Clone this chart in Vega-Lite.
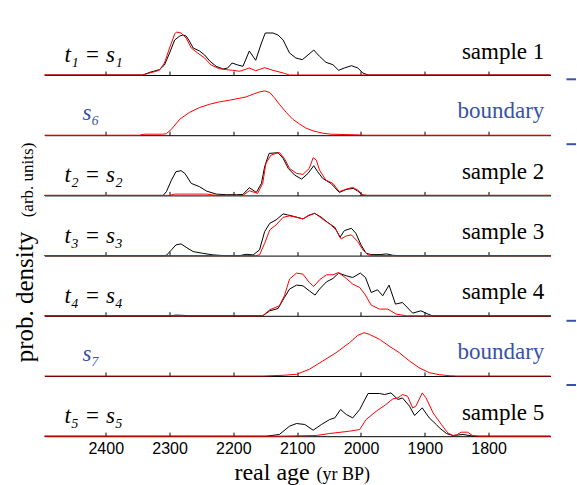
{
  "$schema": "https://vega.github.io/schema/vega-lite/v6.json",
  "padding": {"left": 12.5, "top": 15, "right": 0, "bottom": 0},
  "spacing": 0.2,
  "bounds": "flush",
  "config": {
    "view": {"stroke": null},
    "axis": {"domainColor": "#000000", "tickColor": "#000000", "domainWidth": 1, "tickWidth": 1, "grid": false}
  },
  "datasets": {
    "dens": [
      {"panel":1,"series":"black","age":2496,"density":0},{"panel":1,"series":"black","age":2342,"density":0},{"panel":1,"series":"black","age":2331,"density":0.054},{"panel":1,"series":"black","age":2316,"density":0.106},{"panel":1,"series":"black","age":2308,"density":0.2},{"panel":1,"series":"black","age":2300,"density":0.44},{"panel":1,"series":"black","age":2292,"density":0.7},{"panel":1,"series":"black","age":2284,"density":0.78},{"panel":1,"series":"black","age":2279,"density":0.8},{"panel":1,"series":"black","age":2274,"density":0.78},{"panel":1,"series":"black","age":2269,"density":0.68},{"panel":1,"series":"black","age":2263,"density":0.54},{"panel":1,"series":"black","age":2253,"density":0.48},{"panel":1,"series":"black","age":2245,"density":0.4},{"panel":1,"series":"black","age":2237,"density":0.28},{"panel":1,"series":"black","age":2227,"density":0.174},{"panel":1,"series":"black","age":2216,"density":0.12},{"panel":1,"series":"black","age":2209,"density":0.14},{"panel":1,"series":"black","age":2202,"density":0.24},{"panel":1,"series":"black","age":2193,"density":0.2},{"panel":1,"series":"black","age":2185,"density":0.174},{"panel":1,"series":"black","age":2175,"density":0.48},{"panel":1,"series":"black","age":2165,"density":0.294},{"panel":1,"series":"black","age":2156,"density":0.64},{"panel":1,"series":"black","age":2150,"density":0.84},{"panel":1,"series":"black","age":2138,"density":0.84},{"panel":1,"series":"black","age":2130,"density":0.8},{"panel":1,"series":"black","age":2122,"density":0.7},{"panel":1,"series":"black","age":2112,"density":0.44},{"panel":1,"series":"black","age":2102,"density":0.34},{"panel":1,"series":"black","age":2092,"density":0.306},{"panel":1,"series":"black","age":2083,"density":0.4},{"panel":1,"series":"black","age":2074,"density":0.5},{"panel":1,"series":"black","age":2065,"density":0.374},{"panel":1,"series":"black","age":2055,"density":0.254},{"panel":1,"series":"black","age":2044,"density":0.206},{"panel":1,"series":"black","age":2035,"density":0.094},{"panel":1,"series":"black","age":2026,"density":0.14},{"panel":1,"series":"black","age":2015,"density":0.186},{"panel":1,"series":"black","age":2005,"density":0.14},{"panel":1,"series":"black","age":1997,"density":0.04},{"panel":1,"series":"black","age":1989,"density":0},{"panel":1,"series":"black","age":1703,"density":0},
      {"panel":1,"series":"red","age":2496,"density":0},{"panel":1,"series":"red","age":2342,"density":0},{"panel":1,"series":"red","age":2331,"density":0.04},{"panel":1,"series":"red","age":2316,"density":0.094},{"panel":1,"series":"red","age":2308,"density":0.24},{"panel":1,"series":"red","age":2300,"density":0.54},{"panel":1,"series":"red","age":2292,"density":0.82},{"panel":1,"series":"red","age":2289,"density":0.86},{"panel":1,"series":"red","age":2282,"density":0.84},{"panel":1,"series":"red","age":2274,"density":0.74},{"panel":1,"series":"red","age":2266,"density":0.54},{"panel":1,"series":"red","age":2256,"density":0.44},{"panel":1,"series":"red","age":2245,"density":0.34},{"panel":1,"series":"red","age":2235,"density":0.2},{"panel":1,"series":"red","age":2222,"density":0.126},{"panel":1,"series":"red","age":2211,"density":0.106},{"panel":1,"series":"red","age":2201,"density":0.094},{"panel":1,"series":"red","age":2190,"density":0.074},{"panel":1,"series":"red","age":2175,"density":0.14},{"panel":1,"series":"red","age":2165,"density":0.086},{"panel":1,"series":"red","age":2151,"density":0.146},{"panel":1,"series":"red","age":2138,"density":0.094},{"panel":1,"series":"red","age":2122,"density":0.04},{"panel":1,"series":"red","age":2112,"density":0},{"panel":1,"series":"red","age":1703,"density":0},
      {"panel":2,"series":"red","age":2496,"density":0},{"panel":2,"series":"red","age":2347,"density":0},{"panel":2,"series":"red","age":2340,"density":0.02},{"panel":2,"series":"red","age":2311,"density":0.02},{"panel":2,"series":"red","age":2305,"density":0.03},{"panel":2,"series":"red","age":2297,"density":0.12},{"panel":2,"series":"red","age":2284,"density":0.32},{"panel":2,"series":"red","age":2269,"density":0.454},{"panel":2,"series":"red","age":2253,"density":0.554},{"panel":2,"series":"red","age":2237,"density":0.62},{"panel":2,"series":"red","age":2222,"density":0.666},{"panel":2,"series":"red","age":2206,"density":0.7},{"panel":2,"series":"red","age":2190,"density":0.74},{"panel":2,"series":"red","age":2180,"density":0.766},{"panel":2,"series":"red","age":2169,"density":0.82},{"panel":2,"series":"red","age":2159,"density":0.866},{"panel":2,"series":"red","age":2151,"density":0.886},{"panel":2,"series":"red","age":2143,"density":0.854},{"panel":2,"series":"red","age":2136,"density":0.754},{"panel":2,"series":"red","age":2128,"density":0.62},{"panel":2,"series":"red","age":2117,"density":0.454},{"panel":2,"series":"red","age":2107,"density":0.32},{"panel":2,"series":"red","age":2096,"density":0.22},{"panel":2,"series":"red","age":2086,"density":0.14},{"panel":2,"series":"red","age":2075,"density":0.086},{"panel":2,"series":"red","age":2060,"density":0.04},{"panel":2,"series":"red","age":2047,"density":0.02},{"panel":2,"series":"red","age":2002,"density":0.006},{"panel":2,"series":"red","age":1995,"density":0},{"panel":2,"series":"red","age":1703,"density":0},
      {"panel":3,"series":"black","age":2496,"density":0},{"panel":3,"series":"black","age":2310,"density":0},{"panel":3,"series":"black","age":2305,"density":0.074},{"panel":3,"series":"black","age":2297,"density":0.306},{"panel":3,"series":"black","age":2290,"density":0.474},{"panel":3,"series":"black","age":2282,"density":0.494},{"panel":3,"series":"black","age":2276,"density":0.44},{"panel":3,"series":"black","age":2266,"density":0.24},{"panel":3,"series":"black","age":2253,"density":0.174},{"panel":3,"series":"black","age":2242,"density":0.086},{"panel":3,"series":"black","age":2227,"density":0.026},{"panel":3,"series":"black","age":2211,"density":0.014},{"panel":3,"series":"black","age":2195,"density":0.014},{"panel":3,"series":"black","age":2185,"density":0.02},{"panel":3,"series":"black","age":2175,"density":0.154},{"panel":3,"series":"black","age":2164,"density":0.06},{"panel":3,"series":"black","age":2156,"density":0.24},{"panel":3,"series":"black","age":2151,"density":0.574},{"panel":3,"series":"black","age":2144,"density":0.84},{"panel":3,"series":"black","age":2130,"density":0.854},{"panel":3,"series":"black","age":2122,"density":0.74},{"panel":3,"series":"black","age":2114,"density":0.54},{"panel":3,"series":"black","age":2104,"density":0.406},{"panel":3,"series":"black","age":2093,"density":0.326},{"panel":3,"series":"black","age":2083,"density":0.44},{"panel":3,"series":"black","age":2074,"density":0.594},{"panel":3,"series":"black","age":2068,"density":0.474},{"panel":3,"series":"black","age":2060,"density":0.34},{"panel":3,"series":"black","age":2047,"density":0.24},{"panel":3,"series":"black","age":2034,"density":0.06},{"panel":3,"series":"black","age":2023,"density":0.12},{"panel":3,"series":"black","age":2012,"density":0.14},{"panel":3,"series":"black","age":2005,"density":0.086},{"panel":3,"series":"black","age":1997,"density":0.006},{"panel":3,"series":"black","age":1990,"density":0},{"panel":3,"series":"black","age":1703,"density":0},
      {"panel":3,"series":"red","age":2496,"density":0},{"panel":3,"series":"red","age":2300,"density":0},{"panel":3,"series":"red","age":2292,"density":0.026},{"panel":3,"series":"red","age":2284,"density":0.026},{"panel":3,"series":"red","age":2242,"density":0.026},{"panel":3,"series":"red","age":2227,"density":0},{"panel":3,"series":"red","age":2185,"density":0},{"panel":3,"series":"red","age":2175,"density":0.094},{"panel":3,"series":"red","age":2162,"density":0.04},{"panel":3,"series":"red","age":2154,"density":0.24},{"panel":3,"series":"red","age":2149,"density":0.64},{"panel":3,"series":"red","age":2141,"density":0.806},{"panel":3,"series":"red","age":2128,"density":0.86},{"panel":3,"series":"red","age":2120,"density":0.74},{"panel":3,"series":"red","age":2112,"density":0.54},{"panel":3,"series":"red","age":2101,"density":0.44},{"panel":3,"series":"red","age":2091,"density":0.42},{"panel":3,"series":"red","age":2081,"density":0.54},{"panel":3,"series":"red","age":2075,"density":0.754},{"panel":3,"series":"red","age":2070,"density":0.706},{"panel":3,"series":"red","age":2065,"density":0.506},{"panel":3,"series":"red","age":2055,"density":0.306},{"panel":3,"series":"red","age":2044,"density":0.24},{"panel":3,"series":"red","age":2034,"density":0.074},{"panel":3,"series":"red","age":2023,"density":0.126},{"panel":3,"series":"red","age":2013,"density":0.16},{"panel":3,"series":"red","age":2005,"density":0.106},{"panel":3,"series":"red","age":1997,"density":0.006},{"panel":3,"series":"red","age":1990,"density":0},{"panel":3,"series":"red","age":1703,"density":0},
      {"panel":4,"series":"black","age":2496,"density":0},{"panel":4,"series":"black","age":2310,"density":0},{"panel":4,"series":"black","age":2305,"density":0.006},{"panel":4,"series":"black","age":2297,"density":0.114},{"panel":4,"series":"black","age":2290,"density":0.214},{"panel":4,"series":"black","age":2282,"density":0.234},{"panel":4,"series":"black","age":2274,"density":0.166},{"panel":4,"series":"black","age":2263,"density":0.08},{"panel":4,"series":"black","age":2248,"density":0.046},{"panel":4,"series":"black","age":2232,"density":0.014},{"panel":4,"series":"black","age":2215,"density":0},{"panel":4,"series":"black","age":2190,"density":0},{"panel":4,"series":"black","age":2180,"density":0.026},{"panel":4,"series":"black","age":2169,"density":0.014},{"panel":4,"series":"black","age":2159,"density":0.114},{"panel":4,"series":"black","age":2151,"density":0.48},{"panel":4,"series":"black","age":2143,"density":0.646},{"panel":4,"series":"black","age":2133,"density":0.714},{"panel":4,"series":"black","age":2122,"density":0.834},{"panel":4,"series":"black","age":2115,"density":0.814},{"panel":4,"series":"black","age":2104,"density":0.78},{"panel":4,"series":"black","age":2091,"density":0.734},{"panel":4,"series":"black","age":2083,"density":0.794},{"panel":4,"series":"black","age":2073,"density":0.846},{"panel":4,"series":"black","age":2062,"density":0.766},{"panel":4,"series":"black","age":2052,"density":0.66},{"panel":4,"series":"black","age":2041,"density":0.566},{"panel":4,"series":"black","age":2033,"density":0.366},{"panel":4,"series":"black","age":2026,"density":0.5},{"panel":4,"series":"black","age":2015,"density":0.546},{"panel":4,"series":"black","age":2008,"density":0.446},{"panel":4,"series":"black","age":2000,"density":0.214},{"panel":4,"series":"black","age":1992,"density":0.046},{"panel":4,"series":"black","age":1984,"density":0.02},{"panel":4,"series":"black","age":1970,"density":0.02},{"panel":4,"series":"black","age":1960,"density":0.034},{"panel":4,"series":"black","age":1950,"density":0.006},{"panel":4,"series":"black","age":1940,"density":0},{"panel":4,"series":"black","age":1703,"density":0},
      {"panel":4,"series":"red","age":2496,"density":0},{"panel":4,"series":"red","age":2165,"density":0},{"panel":4,"series":"red","age":2159,"density":0.014},{"panel":4,"series":"red","age":2151,"density":0.246},{"panel":4,"series":"red","age":2143,"density":0.514},{"panel":4,"series":"red","age":2133,"density":0.614},{"panel":4,"series":"red","age":2122,"density":0.766},{"panel":4,"series":"red","age":2112,"density":0.794},{"panel":4,"series":"red","age":2101,"density":0.766},{"panel":4,"series":"red","age":2091,"density":0.734},{"panel":4,"series":"red","age":2081,"density":0.814},{"panel":4,"series":"red","age":2072,"density":0.846},{"panel":4,"series":"red","age":2062,"density":0.746},{"panel":4,"series":"red","age":2049,"density":0.634},{"panel":4,"series":"red","age":2039,"density":0.514},{"panel":4,"series":"red","age":2031,"density":0.334},{"panel":4,"series":"red","age":2023,"density":0.394},{"panel":4,"series":"red","age":2015,"density":0.414},{"panel":4,"series":"red","age":2005,"density":0.28},{"panel":4,"series":"red","age":1997,"density":0.114},{"panel":4,"series":"red","age":1989,"density":0.014},{"panel":4,"series":"red","age":1980,"density":0},{"panel":4,"series":"red","age":1703,"density":0},
      {"panel":5,"series":"black","age":2496,"density":0},{"panel":5,"series":"black","age":2300,"density":0},{"panel":5,"series":"black","age":2290,"density":0.014},{"panel":5,"series":"black","age":2280,"density":0.01},{"panel":5,"series":"black","age":2270,"density":0},{"panel":5,"series":"black","age":2154,"density":0},{"panel":5,"series":"black","age":2143,"density":0.1},{"panel":5,"series":"black","age":2130,"density":0.146},{"panel":5,"series":"black","age":2120,"density":0.366},{"panel":5,"series":"black","age":2112,"density":0.534},{"panel":5,"series":"black","age":2101,"density":0.614},{"panel":5,"series":"black","age":2091,"density":0.6},{"panel":5,"series":"black","age":2081,"density":0.5},{"panel":5,"series":"black","age":2072,"density":0.414},{"panel":5,"series":"black","age":2065,"density":0.534},{"panel":5,"series":"black","age":2054,"density":0.68},{"panel":5,"series":"black","age":2044,"density":0.746},{"panel":5,"series":"black","age":2035,"density":0.854},{"panel":5,"series":"black","age":2023,"density":0.8},{"panel":5,"series":"black","age":2013,"density":0.766},{"panel":5,"series":"black","age":2001,"density":0.854},{"panel":5,"series":"black","age":1993,"density":0.766},{"panel":5,"series":"black","age":1984,"density":0.466},{"panel":5,"series":"black","age":1974,"density":0.52},{"panel":5,"series":"black","age":1966,"density":0.4},{"panel":5,"series":"black","age":1956,"density":0.614},{"panel":5,"series":"black","age":1946,"density":0.234},{"panel":5,"series":"black","age":1935,"density":0.266},{"panel":5,"series":"black","age":1919,"density":0.054},{"panel":5,"series":"black","age":1906,"density":0.1},{"panel":5,"series":"black","age":1895,"density":0.034},{"panel":5,"series":"black","age":1888,"density":0},{"panel":5,"series":"black","age":1703,"density":0},
      {"panel":5,"series":"red","age":2496,"density":0},{"panel":5,"series":"red","age":2154,"density":0},{"panel":5,"series":"red","age":2143,"density":0.12},{"panel":5,"series":"red","age":2128,"density":0.2},{"panel":5,"series":"red","age":2120,"density":0.4},{"panel":5,"series":"red","age":2112,"density":0.734},{"panel":5,"series":"red","age":2101,"density":0.854},{"panel":5,"series":"red","age":2091,"density":0.834},{"panel":5,"series":"red","age":2081,"density":0.666},{"panel":5,"series":"red","age":2074,"density":0.586},{"panel":5,"series":"red","age":2065,"density":0.72},{"panel":5,"series":"red","age":2054,"density":0.82},{"panel":5,"series":"red","age":2044,"density":0.82},{"panel":5,"series":"red","age":2035,"density":0.866},{"panel":5,"series":"red","age":2023,"density":0.746},{"panel":5,"series":"red","age":2013,"density":0.634},{"panel":5,"series":"red","age":2002,"density":0.566},{"panel":5,"series":"red","age":1994,"density":0.434},{"panel":5,"series":"red","age":1984,"density":0.214},{"panel":5,"series":"red","age":1971,"density":0.134},{"panel":5,"series":"red","age":1958,"density":0.134},{"panel":5,"series":"red","age":1945,"density":0.034},{"panel":5,"series":"red","age":1929,"density":0},{"panel":5,"series":"red","age":1703,"density":0},
      {"panel":6,"series":"red","age":2496,"density":0},{"panel":6,"series":"red","age":2154,"density":0},{"panel":6,"series":"red","age":2122,"density":0.014},{"panel":6,"series":"red","age":2101,"density":0.034},{"panel":6,"series":"red","age":2081,"density":0.134},{"panel":6,"series":"red","age":2060,"density":0.3},{"panel":6,"series":"red","age":2039,"density":0.466},{"panel":6,"series":"red","age":2018,"density":0.666},{"panel":6,"series":"red","age":2005,"density":0.814},{"panel":6,"series":"red","age":1995,"density":0.866},{"panel":6,"series":"red","age":1987,"density":0.834},{"panel":6,"series":"red","age":1971,"density":0.734},{"panel":6,"series":"red","age":1956,"density":0.6},{"panel":6,"series":"red","age":1940,"density":0.466},{"panel":6,"series":"red","age":1924,"density":0.3},{"panel":6,"series":"red","age":1909,"density":0.166},{"panel":6,"series":"red","age":1893,"density":0.066},{"panel":6,"series":"red","age":1877,"density":0.026},{"panel":6,"series":"red","age":1861,"density":0.006},{"panel":6,"series":"red","age":1850,"density":0},{"panel":6,"series":"red","age":1703,"density":0},
      {"panel":7,"series":"black","age":2496,"density":0},{"panel":7,"series":"black","age":2149,"density":0},{"panel":7,"series":"black","age":2128,"density":0.034},{"panel":7,"series":"black","age":2112,"density":0.2},{"panel":7,"series":"black","age":2101,"density":0.254},{"panel":7,"series":"black","age":2088,"density":0.234},{"panel":7,"series":"black","age":2075,"density":0.12},{"panel":7,"series":"black","age":2062,"density":0.234},{"panel":7,"series":"black","age":2049,"density":0.334},{"panel":7,"series":"black","age":2041,"density":0.366},{"panel":7,"series":"black","age":2032,"density":0.534},{"panel":7,"series":"black","age":2023,"density":0.434},{"panel":7,"series":"black","age":2013,"density":0.366},{"panel":7,"series":"black","age":2002,"density":0.534},{"panel":7,"series":"black","age":1989,"density":0.854},{"panel":7,"series":"black","age":1971,"density":0.854},{"panel":7,"series":"black","age":1963,"density":0.834},{"panel":7,"series":"black","age":1953,"density":0.866},{"panel":7,"series":"black","age":1942,"density":0.734},{"panel":7,"series":"black","age":1935,"density":0.766},{"panel":7,"series":"black","age":1924,"density":0.6},{"panel":7,"series":"black","age":1916,"density":0.414},{"panel":7,"series":"black","age":1904,"density":0.566},{"panel":7,"series":"black","age":1893,"density":0.366},{"panel":7,"series":"black","age":1882,"density":0.234},{"panel":7,"series":"black","age":1877,"density":0.166},{"panel":7,"series":"black","age":1866,"density":0.054},{"panel":7,"series":"black","age":1856,"density":0.014},{"panel":7,"series":"black","age":1840,"density":0.034},{"panel":7,"series":"black","age":1824,"density":0},{"panel":7,"series":"black","age":1703,"density":0},
      {"panel":7,"series":"red","age":2496,"density":0},{"panel":7,"series":"red","age":2133,"density":0},{"panel":7,"series":"red","age":2070,"density":0.014},{"panel":7,"series":"red","age":2049,"density":0.054},{"panel":7,"series":"red","age":2018,"density":0.1},{"panel":7,"series":"red","age":2002,"density":0.134},{"panel":7,"series":"red","age":1992,"density":0.334},{"panel":7,"series":"red","age":1976,"density":0.5},{"panel":7,"series":"red","age":1961,"density":0.634},{"panel":7,"series":"red","age":1950,"density":0.746},{"panel":7,"series":"red","age":1942,"density":0.766},{"panel":7,"series":"red","age":1935,"density":0.834},{"panel":7,"series":"red","age":1927,"density":0.8},{"panel":7,"series":"red","age":1919,"density":0.566},{"panel":7,"series":"red","age":1914,"density":0.6},{"panel":7,"series":"red","age":1904,"density":0.866},{"panel":7,"series":"red","age":1898,"density":0.766},{"panel":7,"series":"red","age":1887,"density":0.466},{"panel":7,"series":"red","age":1874,"density":0.234},{"panel":7,"series":"red","age":1864,"density":0.066},{"panel":7,"series":"red","age":1856,"density":0.014},{"panel":7,"series":"red","age":1851,"density":0.02},{"panel":7,"series":"red","age":1843,"density":0.08},{"panel":7,"series":"red","age":1833,"density":0.08},{"panel":7,"series":"red","age":1825,"density":0.014},{"panel":7,"series":"red","age":1815,"density":0},{"panel":7,"series":"red","age":1703,"density":0}
    ]
  },
  "vconcat": [
    {
      "width": 506, "height": 60,
      "layer": [
        {"data": {"name": "dens"}, "transform": [{"filter": "datum.panel == 1"}],
         "mark": {"type": "line", "strokeWidth": 1},
         "encoding": {
           "x": {"field": "age", "type": "quantitative", "scale": {"domain": [1703, 2496], "reverse": true, "nice": false, "zero": false}, "axis": {"values": [2400,2300,2200,2100,2000,1900,1800], "labels": false, "title": null, "tickSize": -4}},
           "y": {"field": "density", "type": "quantitative", "scale": {"domain": [0, 1.2], "nice": false}, "axis": null},
           "color": {"field": "series", "type": "nominal", "scale": {"domain": ["black","red"], "range": ["#000000","#ff0000"]}, "legend": null}}},
        {"data": {"values": [{}]}, "mark": {"type": "text", "text": "t₁ = s₁", "font": "Liberation Serif", "fontSize": 23, "fontStyle": "italic", "align": "left", "baseline": "alphabetic", "color": "#000000"},
         "encoding": {"x": {"datum": 2464.7, "type": "quantitative"}, "y": {"datum": 0.27, "type": "quantitative"}}},
        {"data": {"values": [{}]}, "mark": {"type": "text", "text": "sample 1", "font": "Liberation Serif", "fontSize": 23, "align": "right", "baseline": "alphabetic", "color": "#000000"},
         "encoding": {"x": {"datum": 1712.7, "type": "quantitative"}, "y": {"datum": 0.32, "type": "quantitative"}}},
        {"data": {"values": [{}]}, "mark": {"type": "rule", "color": "#3953a4", "strokeWidth": 2},
         "encoding": {"x": {"datum": 1678, "type": "quantitative"}, "x2": {"datum": 1663}, "y": {"datum": -0.086, "type": "quantitative"}}}
      ]
    },
    {
      "width": 506, "height": 60,
      "layer": [
        {"data": {"name": "dens"}, "transform": [{"filter": "datum.panel == 2"}],
         "mark": {"type": "line", "strokeWidth": 1},
         "encoding": {
           "x": {"field": "age", "type": "quantitative", "scale": {"domain": [1703, 2496], "reverse": true, "nice": false, "zero": false}, "axis": {"values": [2400,2300,2200,2100,2000,1900,1800], "labels": false, "title": null, "tickSize": -4}},
           "y": {"field": "density", "type": "quantitative", "scale": {"domain": [0, 1.2], "nice": false}, "axis": null},
           "color": {"field": "series", "type": "nominal", "scale": {"domain": ["black","red"], "range": ["#000000","#ff0000"]}, "legend": null}}},
        {"data": {"values": [{}]}, "mark": {"type": "text", "text": "s₆", "font": "Liberation Serif", "fontSize": 23, "fontStyle": "italic", "align": "left", "baseline": "alphabetic", "color": "#3953a4"},
         "encoding": {"x": {"datum": 2436.5, "type": "quantitative"}, "y": {"datum": 0.31, "type": "quantitative"}}},
        {"data": {"values": [{}]}, "mark": {"type": "text", "text": "boundary", "font": "Liberation Serif", "fontSize": 23, "align": "right", "baseline": "alphabetic", "color": "#3953a4"},
         "encoding": {"x": {"datum": 1712.7, "type": "quantitative"}, "y": {"datum": 0.34, "type": "quantitative"}}},
        {"data": {"values": [{}]}, "mark": {"type": "rule", "color": "#3953a4", "strokeWidth": 2},
         "encoding": {"x": {"datum": 1678, "type": "quantitative"}, "x2": {"datum": 1663}, "y": {"datum": -0.18, "type": "quantitative"}}}
      ]
    },
    {
      "width": 506, "height": 60,
      "layer": [
        {"data": {"name": "dens"}, "transform": [{"filter": "datum.panel == 3"}],
         "mark": {"type": "line", "strokeWidth": 1},
         "encoding": {
           "x": {"field": "age", "type": "quantitative", "scale": {"domain": [1703, 2496], "reverse": true, "nice": false, "zero": false}, "axis": {"values": [2400,2300,2200,2100,2000,1900,1800], "labels": false, "title": null, "tickSize": -4}},
           "y": {"field": "density", "type": "quantitative", "scale": {"domain": [0, 1.2], "nice": false}, "axis": null},
           "color": {"field": "series", "type": "nominal", "scale": {"domain": ["black","red"], "range": ["#000000","#ff0000"]}, "legend": null}}},
        {"data": {"values": [{}]}, "mark": {"type": "text", "text": "t₂ = s₂", "font": "Liberation Serif", "fontSize": 23, "fontStyle": "italic", "align": "left", "baseline": "alphabetic", "color": "#000000"},
         "encoding": {"x": {"datum": 2464.7, "type": "quantitative"}, "y": {"datum": 0.26, "type": "quantitative"}}},
        {"data": {"values": [{}]}, "mark": {"type": "text", "text": "sample 2", "font": "Liberation Serif", "fontSize": 23, "align": "right", "baseline": "alphabetic", "color": "#000000"},
         "encoding": {"x": {"datum": 1712.7, "type": "quantitative"}, "y": {"datum": 0.33, "type": "quantitative"}}}
      ]
    },
    {
      "width": 506, "height": 60,
      "layer": [
        {"data": {"name": "dens"}, "transform": [{"filter": "datum.panel == 4"}],
         "mark": {"type": "line", "strokeWidth": 1},
         "encoding": {
           "x": {"field": "age", "type": "quantitative", "scale": {"domain": [1703, 2496], "reverse": true, "nice": false, "zero": false}, "axis": {"values": [2400,2300,2200,2100,2000,1900,1800], "labels": false, "title": null, "tickSize": -4}},
           "y": {"field": "density", "type": "quantitative", "scale": {"domain": [0, 1.2], "nice": false}, "axis": null},
           "color": {"field": "series", "type": "nominal", "scale": {"domain": ["black","red"], "range": ["#000000","#ff0000"]}, "legend": null}}},
        {"data": {"values": [{}]}, "mark": {"type": "text", "text": "t₃ = s₃", "font": "Liberation Serif", "fontSize": 23, "fontStyle": "italic", "align": "left", "baseline": "alphabetic", "color": "#000000"},
         "encoding": {"x": {"datum": 2464.7, "type": "quantitative"}, "y": {"datum": 0.26, "type": "quantitative"}}},
        {"data": {"values": [{}]}, "mark": {"type": "text", "text": "sample 3", "font": "Liberation Serif", "fontSize": 23, "align": "right", "baseline": "alphabetic", "color": "#000000"},
         "encoding": {"x": {"datum": 1712.7, "type": "quantitative"}, "y": {"datum": 0.33, "type": "quantitative"}}}
      ]
    },
    {
      "width": 506, "height": 60,
      "layer": [
        {"data": {"name": "dens"}, "transform": [{"filter": "datum.panel == 5"}],
         "mark": {"type": "line", "strokeWidth": 1},
         "encoding": {
           "x": {"field": "age", "type": "quantitative", "scale": {"domain": [1703, 2496], "reverse": true, "nice": false, "zero": false}, "axis": {"values": [2400,2300,2200,2100,2000,1900,1800], "labels": false, "title": null, "tickSize": -4}},
           "y": {"field": "density", "type": "quantitative", "scale": {"domain": [0, 1.2], "nice": false}, "axis": null},
           "color": {"field": "series", "type": "nominal", "scale": {"domain": ["black","red"], "range": ["#000000","#ff0000"]}, "legend": null}}},
        {"data": {"values": [{}]}, "mark": {"type": "text", "text": "t₄ = s₄", "font": "Liberation Serif", "fontSize": 23, "fontStyle": "italic", "align": "left", "baseline": "alphabetic", "color": "#000000"},
         "encoding": {"x": {"datum": 2464.7, "type": "quantitative"}, "y": {"datum": 0.26, "type": "quantitative"}}},
        {"data": {"values": [{}]}, "mark": {"type": "text", "text": "sample 4", "font": "Liberation Serif", "fontSize": 23, "align": "right", "baseline": "alphabetic", "color": "#000000"},
         "encoding": {"x": {"datum": 1712.7, "type": "quantitative"}, "y": {"datum": 0.33, "type": "quantitative"}}},
        {"data": {"values": [{}]}, "mark": {"type": "rule", "color": "#3953a4", "strokeWidth": 2},
         "encoding": {"x": {"datum": 1678, "type": "quantitative"}, "x2": {"datum": 1663}, "y": {"datum": -0.1, "type": "quantitative"}}}
      ]
    },
    {
      "width": 506, "height": 60,
      "layer": [
        {"data": {"name": "dens"}, "transform": [{"filter": "datum.panel == 6"}],
         "mark": {"type": "line", "strokeWidth": 1},
         "encoding": {
           "x": {"field": "age", "type": "quantitative", "scale": {"domain": [1703, 2496], "reverse": true, "nice": false, "zero": false}, "axis": {"values": [2400,2300,2200,2100,2000,1900,1800], "labels": false, "title": null, "tickSize": -4}},
           "y": {"field": "density", "type": "quantitative", "scale": {"domain": [0, 1.2], "nice": false}, "axis": null},
           "color": {"field": "series", "type": "nominal", "scale": {"domain": ["black","red"], "range": ["#000000","#ff0000"]}, "legend": null}}},
        {"data": {"values": [{}]}, "mark": {"type": "text", "text": "s₇", "font": "Liberation Serif", "fontSize": 23, "fontStyle": "italic", "align": "left", "baseline": "alphabetic", "color": "#3953a4"},
         "encoding": {"x": {"datum": 2436.5, "type": "quantitative"}, "y": {"datum": 0.31, "type": "quantitative"}}},
        {"data": {"values": [{}]}, "mark": {"type": "text", "text": "boundary", "font": "Liberation Serif", "fontSize": 23, "align": "right", "baseline": "alphabetic", "color": "#3953a4"},
         "encoding": {"x": {"datum": 1712.7, "type": "quantitative"}, "y": {"datum": 0.34, "type": "quantitative"}}},
        {"data": {"values": [{}]}, "mark": {"type": "rule", "color": "#3953a4", "strokeWidth": 2},
         "encoding": {"x": {"datum": 1678, "type": "quantitative"}, "x2": {"datum": 1663}, "y": {"datum": -0.18, "type": "quantitative"}}},
        {"data": {"values": [{}]}, "mark": {"type": "text", "text": "prob. density", "font": "Liberation Serif", "fontSize": 25, "angle": 270, "align": "left", "baseline": "alphabetic", "color": "#000000"},
         "encoding": {"x": {"datum": 2514.8, "type": "quantitative"}, "y": {"datum": 0.274, "type": "quantitative"}}},
        {"data": {"values": [{}]}, "mark": {"type": "text", "text": "(arb. units)", "font": "Liberation Serif", "fontSize": 17, "angle": 270, "align": "left", "baseline": "alphabetic", "color": "#000000"},
         "encoding": {"x": {"datum": 2514.8, "type": "quantitative"}, "y": {"datum": 3.174, "type": "quantitative"}}}
      ]
    },
    {
      "width": 506, "height": 60,
      "layer": [
        {"data": {"name": "dens"}, "transform": [{"filter": "datum.panel == 7"}],
         "mark": {"type": "line", "strokeWidth": 1},
         "encoding": {
           "x": {"field": "age", "type": "quantitative", "scale": {"domain": [1703, 2496], "reverse": true, "nice": false, "zero": false}, "axis": {"values": [2400,2300,2200,2100,2000,1900,1800], "labels": true, "title": null, "tickSize": -4, "labelPadding": 8, "labelFont": "Liberation Sans", "labelFontSize": 16, "labelColor": "#000000", "format": "d"}},
           "y": {"field": "density", "type": "quantitative", "scale": {"domain": [0, 1.2], "nice": false}, "axis": null},
           "color": {"field": "series", "type": "nominal", "scale": {"domain": ["black","red"], "range": ["#000000","#ff0000"]}, "legend": null}}},
        {"data": {"values": [{}]}, "mark": {"type": "text", "text": "t₅ = s₅", "font": "Liberation Serif", "fontSize": 23, "fontStyle": "italic", "align": "left", "baseline": "alphabetic", "color": "#000000"},
         "encoding": {"x": {"datum": 2464.7, "type": "quantitative"}, "y": {"datum": 0.27, "type": "quantitative"}}},
        {"data": {"values": [{}]}, "mark": {"type": "text", "text": "sample 5", "font": "Liberation Serif", "fontSize": 23, "align": "right", "baseline": "alphabetic", "color": "#000000"},
         "encoding": {"x": {"datum": 1712.7, "type": "quantitative"}, "y": {"datum": 0.33, "type": "quantitative"}}},
        {"data": {"values": [{}]}, "mark": {"type": "text", "text": "real age", "font": "Liberation Serif", "fontSize": 24, "align": "left", "baseline": "alphabetic", "color": "#000000"},
         "encoding": {"x": {"datum": 2198.3, "type": "quantitative"}, "y": {"datum": -0.866, "type": "quantitative"}}},
        {"data": {"values": [{}]}, "mark": {"type": "text", "text": "(yr BP)", "font": "Liberation Serif", "fontSize": 18, "align": "left", "baseline": "alphabetic", "color": "#000000"},
         "encoding": {"x": {"datum": 2069.9, "type": "quantitative"}, "y": {"datum": -0.866, "type": "quantitative"}}}
      ]
    }
  ]
}
